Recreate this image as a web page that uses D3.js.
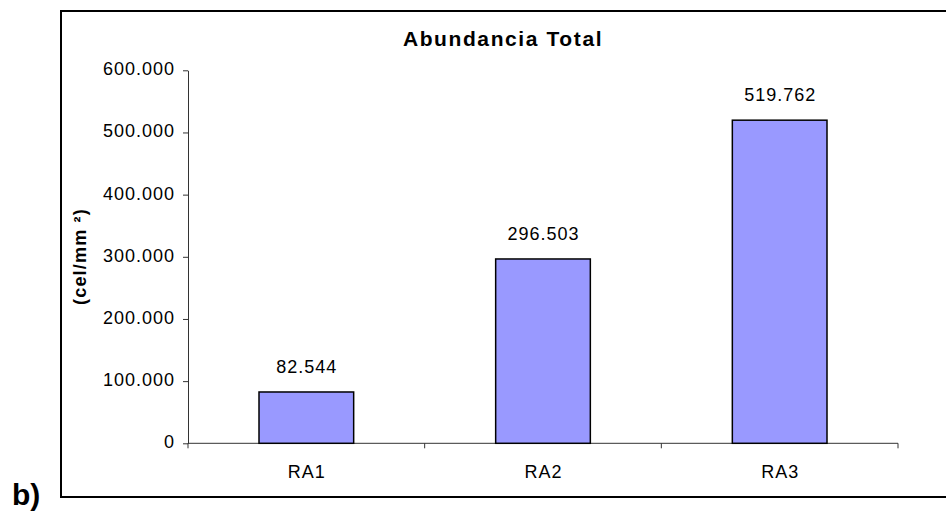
<!DOCTYPE html>
<html>
<head>
<meta charset="utf-8">
<script src="https://cdn.jsdelivr.net/npm/d3@7"></script>
<style>
  html, body { margin: 0; padding: 0; background: #fff; }
  svg { display: block; font-family: "Liberation Sans", Arial, sans-serif; }
</style>
</head>
<body>
<svg id="chart" width="946" height="517"></svg>
<script>
// ---- data ----
const categories = ["RA1", "RA2", "RA3"];
const values = [82544, 296503, 519762];
const yTicks = [0, 100000, 200000, 300000, 400000, 500000, 600000];
const titleText = "Abundancia Total";
const yLabelText = "(cel/mm \u00B2)";
const panelLabel = "b)";

// ---- layout ----
const W = 946, H = 517;
const plot = { left: 188, right: 898, top: 70.3, bottom: 443.3 };

const svg = d3.select("#chart");
svg.append("rect").attr("width", W).attr("height", H).attr("fill", "#fff");

// outer frame (right edge beyond the picture)
svg.append("path")
  .attr("d", `M ${W + 10} 11 H 61 V 497 H ${W + 10}`)
  .attr("fill", "none").attr("stroke", "#000").attr("stroke-width", 2);

const loc = d3.formatLocale({ decimal: ",", thousands: ".", grouping: [3], currency: ["", ""] });
const fmt = loc.format(",d");

const x = d3.scaleBand().domain(categories)
  .range([plot.left, plot.right]).paddingInner(0.6).paddingOuter(0.3);
const y = d3.scaleLinear().domain([0, 600000]).range([plot.bottom, plot.top]);

// y axis
const yAxis = svg.append("g").attr("transform", `translate(${plot.left},0)`)
  .call(d3.axisLeft(y).tickValues(yTicks).tickFormat(fmt).tickSize(5).tickSizeOuter(0).tickPadding(8));
yAxis.select(".domain").attr("stroke", "#333");
yAxis.selectAll(".tick line").attr("stroke", "#333");
yAxis.selectAll(".tick text")
  .attr("font-family", "Liberation Sans, Arial, sans-serif")
  .attr("font-size", 18).attr("letter-spacing", 1).attr("fill", "#000")
  .attr("dy", "0.25em");

// x axis line
svg.append("line")
  .attr("x1", plot.left).attr("x2", plot.right)
  .attr("y1", y(0)).attr("y2", y(0))
  .attr("stroke", "#333");
// category boundary ticks
const step = x.step();
const bounds = d3.range(categories.length + 1).map(i => plot.left + i * step);
svg.selectAll("line.xtick").data(bounds).enter().append("line")
  .attr("class", "xtick")
  .attr("x1", d => d).attr("x2", d => d)
  .attr("y1", y(0)).attr("y2", y(0) + 5)
  .attr("stroke", "#333");
// category labels
svg.selectAll("text.xlab").data(categories).enter().append("text")
  .attr("class", "xlab")
  .attr("x", d => x(d) + x.bandwidth() / 2 + 0.5)
  .attr("y", 478)
  .attr("text-anchor", "middle")
  .attr("font-size", 18).attr("letter-spacing", 1)
  .text(d => d);

// bars
svg.selectAll("rect.bar").data(values).enter().append("rect")
  .attr("class", "bar")
  .attr("x", (d, i) => x(categories[i]))
  .attr("y", d => y(d))
  .attr("width", x.bandwidth())
  .attr("height", d => y(0) - y(d))
  .attr("fill", "#9999FF")
  .attr("stroke", "#000").attr("stroke-width", 1.5);

// value labels
svg.selectAll("text.val").data(values).enter().append("text")
  .attr("class", "val")
  .attr("x", (d, i) => x(categories[i]) + x.bandwidth() / 2 + 0.5)
  .attr("y", d => y(d) - 19)
  .attr("text-anchor", "middle")
  .attr("font-size", 18).attr("letter-spacing", 1)
  .text(d => fmt(d));

// title
svg.append("text")
  .attr("x", 503).attr("y", 46)
  .attr("text-anchor", "middle")
  .attr("font-size", 21).attr("font-weight", "bold").attr("letter-spacing", 1.6)
  .text(titleText);

// y label
svg.append("text")
  .attr("transform", "translate(86,256.5) rotate(-90)")
  .attr("text-anchor", "middle")
  .attr("font-size", 18).attr("font-weight", "bold").attr("letter-spacing", 1.2)
  .text(yLabelText);

// panel label
svg.append("text")
  .attr("x", 12).attr("y", 505)
  .attr("font-size", 30).attr("font-weight", "bold")
  .text(panelLabel);
</script>
</body>
</html>
